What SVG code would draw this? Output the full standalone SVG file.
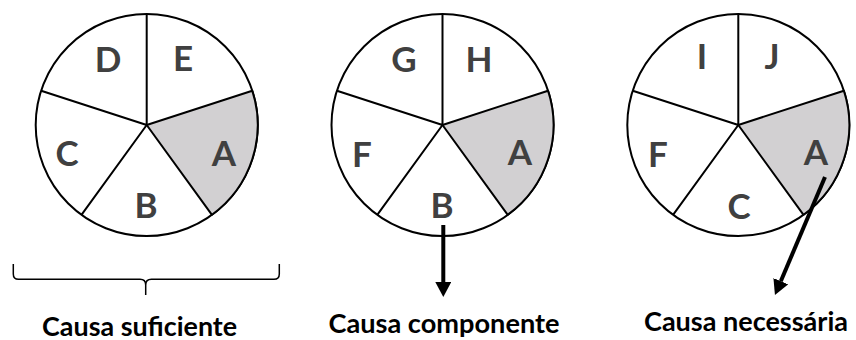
<svg xmlns="http://www.w3.org/2000/svg" xmlns:xlink="http://www.w3.org/1999/xlink" width="856" height="340" viewBox="0 0 856 340">
  <style>
    .rim { fill: #ffffff; stroke: #000000; stroke-width: 2; }
    .spoke { fill: none; stroke: #000000; stroke-width: 2; }
    .hl { fill: #d2d0d2; stroke: #000000; stroke-width: 2; stroke-linejoin: round; }
    .lbl { font-family: Lato, "Open Sans", "Liberation Sans", sans-serif; font-weight: bold; font-size: 35px; fill: #404040; text-anchor: middle; }
    .cap { font-family: Lato, "Open Sans", "Liberation Sans", sans-serif; font-weight: bold; font-size: 27px; fill: #000000; text-anchor: middle; }
    .arrow { fill: none; stroke: #000000; stroke-width: 4; marker-end: url(#head); }
    .brace { fill: none; stroke: #000000; stroke-width: 1.5; }
  </style>
  <defs>
    <marker id="head" viewBox="0 0 15 16" refX="0" refY="8" markerWidth="15" markerHeight="16" markerUnits="userSpaceOnUse" orient="auto">
      <path d="M0,0 L15,8 L0,16 Z" fill="#000000"/>
    </marker>
    <g id="pieBase">
      <circle class="rim" cx="0" cy="0" r="111"/>
      <path class="hl" d="M0,0 L105.57,-34.3 A111,111 0 0 1 65.24,89.8 Z"/>
      <path class="spoke" d="M0,0 L0,-111 M0,0 L-105.57,-34.3 M0,0 L-65.24,89.8"/>
    </g>
  </defs>

  <g id="pie1">
    <use xlink:href="#pieBase" transform="translate(146.7,125)"/>
    <text class="lbl" x="108" y="71.5">D</text>
    <text class="lbl" x="183" y="71">E</text>
    <text class="lbl" x="67" y="166">C</text>
    <text class="lbl" x="224" y="165.5">A</text>
    <text class="lbl" x="146" y="218">B</text>
  </g>

  <g id="pie2">
    <use xlink:href="#pieBase" transform="translate(442.5,125)"/>
    <text class="lbl" x="404" y="71.5">G</text>
    <text class="lbl" x="479" y="71.5">H</text>
    <text class="lbl" x="362" y="166.5">F</text>
    <text class="lbl" x="520" y="165">A</text>
    <text class="lbl" x="442" y="218">B</text>
  </g>

  <g id="pie3">
    <use xlink:href="#pieBase" transform="translate(738.3,125)"/>
    <text class="lbl" x="702" y="69">I</text>
    <text class="lbl" x="772" y="68.5">J</text>
    <text class="lbl" x="658" y="166.5">F</text>
    <text class="lbl" x="816" y="165">A</text>
    <text class="lbl" x="739" y="219">C</text>
  </g>

  <g id="connectors">
    <path class="brace" d="M13.3,264 L13.3,274 Q13.3,279.3 18.5,279.3 L140,279.3 Q145.7,279.3 145.7,285 L145.7,295 M145.7,285 Q145.7,279.3 151.4,279.3 L274,279.3 Q279.3,279.3 279.3,274 L279.3,264"/>
    <line class="arrow" x1="443.3" y1="225" x2="443.3" y2="282"/>
    <line class="arrow" x1="825" y1="177" x2="780.8" y2="281.2"/>
  </g>

  <g id="captions">
    <text class="cap" x="139.6" y="336" textLength="195" lengthAdjust="spacingAndGlyphs">Causa suficiente</text>
    <text class="cap" x="444" y="333" textLength="231" lengthAdjust="spacingAndGlyphs">Causa componente</text>
    <text class="cap" x="746" y="331" textLength="204" lengthAdjust="spacingAndGlyphs">Causa necessária</text>
  </g>
</svg>
